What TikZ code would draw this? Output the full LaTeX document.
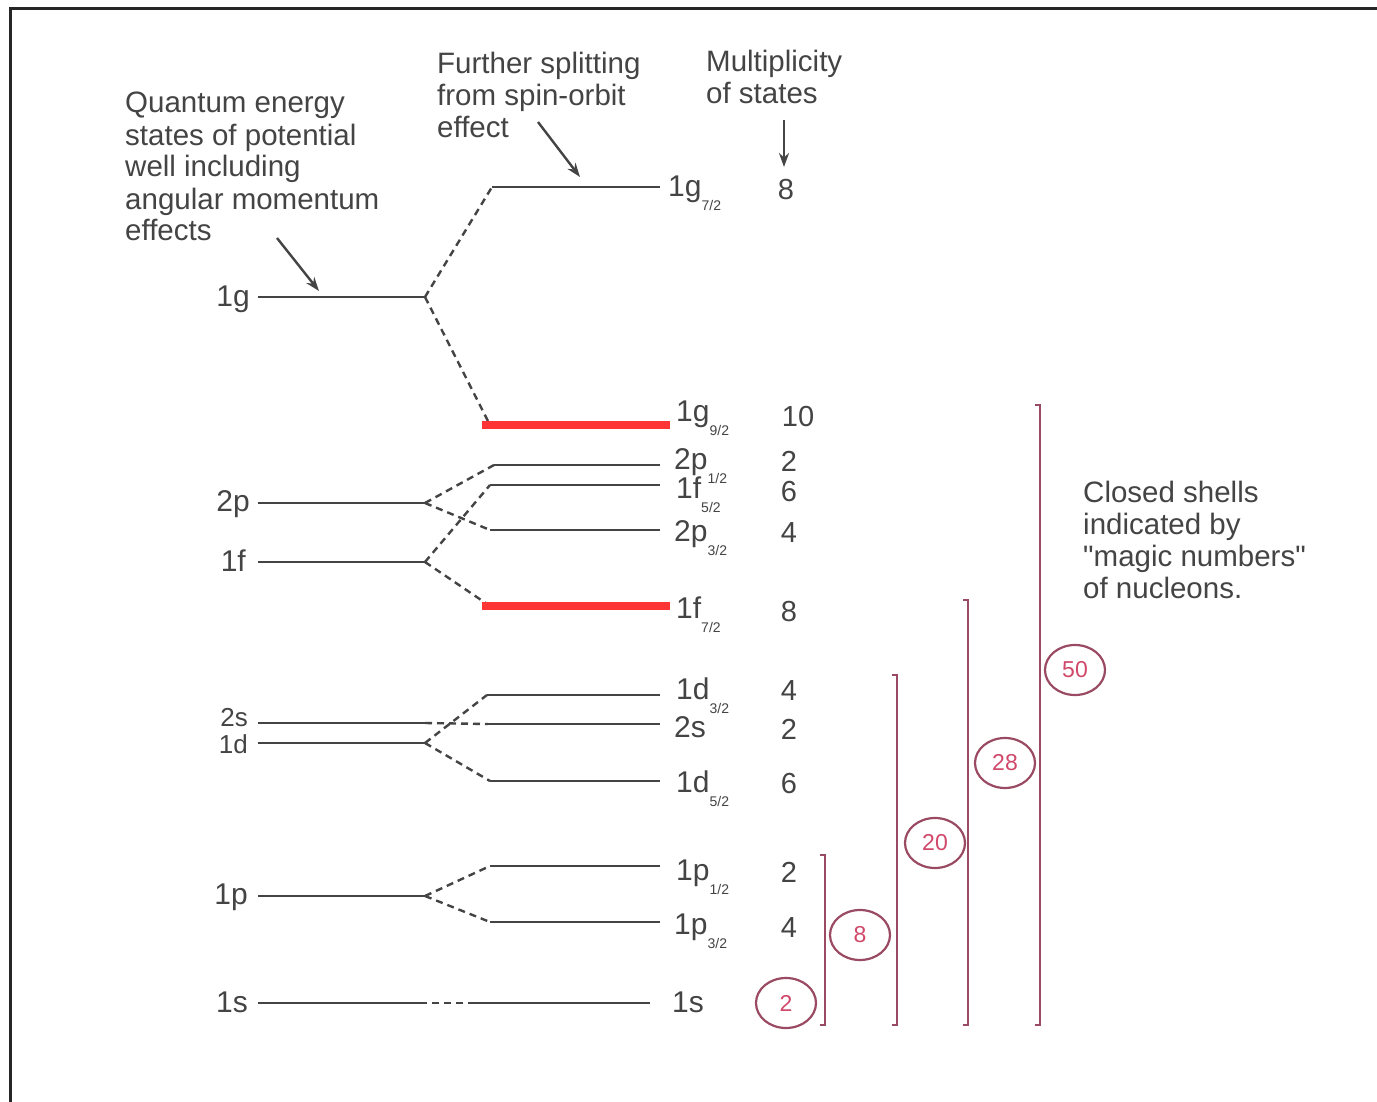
\documentclass[tikz,border=0pt]{standalone}
\usepackage{fontspec}
\setmainfont{Liberation Sans}
\usetikzlibrary{arrows.meta,shapes.geometric}
\definecolor{ink}{HTML}{444444}
\definecolor{magic}{HTML}{9A4A62}
\definecolor{magictext}{HTML}{D0486A}
\definecolor{hl}{HTML}{FF3535}
\tikzset{
  level/.style={line width=2.6pt, draw=ink},
  split/.style={line width=2.4pt, draw=ink, dash pattern=on 7pt off 5pt},
  lbl/.style={text=ink, font=\fontsize{30}{30}\selectfont, inner sep=0pt},
  smalllbl/.style={text=ink, font=\fontsize{26}{26}\selectfont, inner sep=0pt},
  mult/.style={text=ink, font=\fontsize{29}{29}\selectfont, inner sep=0pt, anchor=mid},
  note/.style={text=ink, font=\fontsize{29.5}{32}\selectfont, align=left, inner sep=0pt, anchor=base west},
  pointer/.style={draw=ink, line width=2.4pt, -{Stealth[length=14pt,width=10pt]}},
  shell/.style={draw=magic, line width=2.4pt},
  magicnum/.style={ellipse, draw=magic, line width=2.2pt, minimum width=60pt, minimum height=50pt,
    text=magictext, font=\fontsize{23}{23}\selectfont, inner sep=0pt},
  hlbar/.style={draw=hl, line width=8pt},
  frameline/.style={draw=black!85, line width=3pt},
}
\newcommand{\fr}[2]{\raisebox{-0.45em}{\fontsize{14}{14}\selectfont #1/#2}}
\begin{document}
\begin{tikzpicture}[x=1pt,y=-1pt]
\useasboundingbox (0,0) rectangle (1377,1102);
\fill[white] (0,0) rectangle (1377,1102);
% frame
\coordinate (frTR) at (1377,9);
\coordinate (frTL) at (10,9);
\coordinate (frBL) at (10,1102);
\draw[frameline] (frTR) -- (frTL) -- (frBL);

% annotations (anchor = baseline of last line)
\node[note] (qtext) at (125,241) {Quantum energy\\states of potential\\well including\\angular momentum\\effects};
\node[note] (ftext) at (437,138) {Further splitting\\from spin-orbit\\effect};
\node[note] (mtext) at (706,104) {Multiplicity\\of states};
\node[note] (ctext) at (1083,598) {Closed shells\\indicated by\\\textquotedbl magic numbers\textquotedbl\\of nucleons.};

% left levels
\node[lbl, anchor=mid east] (L1g) at (250,304) {1g};
\node[lbl, anchor=mid east] (L2p) at (250,509) {2p};
\node[lbl, anchor=mid east] (L1f) at (246,569) {1f};
\node[smalllbl, anchor=mid east] (L2s) at (248,724) {2s};
\node[smalllbl, anchor=mid east] (L1d) at (248,751) {1d};
\node[lbl, anchor=mid east] (L1p) at (248,902) {1p};
\node[lbl, anchor=mid east] (L1s) at (248,1010) {1s};

\coordinate (a1g) at (258,297); \coordinate (f1g) at (425,297);
\coordinate (a2p) at (258,503); \coordinate (f2p) at (425,503);
\coordinate (a1f) at (258,562); \coordinate (f1f) at (425,562);
\coordinate (a2s) at (258,723); \coordinate (f2s) at (425,723);
\coordinate (a1d) at (258,743); \coordinate (f1d) at (425,743);
\coordinate (a1p) at (258,896); \coordinate (f1p) at (425,896);
\coordinate (a1s) at (258,1003); \coordinate (f1s) at (420,1003);
\foreach \n in {1g,2p,1f,2s,1d,1p,1s} {\draw[level] (a\n) -- (f\n);}

% right levels
\coordinate (bg7) at (492,187); \coordinate (eg7) at (660,187);
\coordinate (bg9) at (490,425); \coordinate (eg9) at (660,425);
\coordinate (bp1) at (494,465); \coordinate (ep1) at (660,465);
\coordinate (bf5) at (490,485); \coordinate (ef5) at (660,485);
\coordinate (bp3) at (490,530); \coordinate (ep3) at (660,530);
\coordinate (bf7) at (490,606); \coordinate (ef7) at (660,606);
\coordinate (bd3) at (487,695); \coordinate (ed3) at (660,695);
\coordinate (bs2) at (488,724); \coordinate (es2) at (660,724);
\coordinate (bd5) at (490,781); \coordinate (ed5) at (660,781);
\coordinate (bq1) at (490,866); \coordinate (eq1) at (660,866);
\coordinate (bq3) at (490,922); \coordinate (eq3) at (660,922);
\coordinate (bs1) at (472,1003); \coordinate (es1) at (650,1003);
\foreach \n in {g7,g9,p1,f5,p3,f7,d3,s2,d5,q1,q3,s1} {\draw[level] (b\n) -- (e\n);}

% spin-orbit splitting (dashed)
\draw[split] (f1g) -- (bg7);
\draw[split] (f1g) -- (bg9);
\draw[split] (f2p) -- (bp1);
\draw[split] (f2p) -- (bp3);
\draw[split] (f1f) -- (bf5);
\draw[split] (f1f) -- (bf7);
\draw[split] (f1d) -- (bd3);
\draw[split] (f2s) -- (bs2);
\draw[split] (f1d) -- (bd5);
\draw[split] (f1p) -- (bq1);
\draw[split] (f1p) -- (bq3);
\draw[split] (f1s) -- (bs1);

% red highlight bars
\coordinate (hA1) at (482,425); \coordinate (hA2) at (670,425);
\coordinate (hB1) at (482,606); \coordinate (hB2) at (670,606);
\draw[hlbar] (hA1) -- (hA2);
\draw[hlbar] (hB1) -- (hB2);

% right labels
\node[lbl, anchor=mid west] (Rg7) at (668,194) {1g\fr{7}{2}};
\node[lbl, anchor=mid west] (Rg9) at (676,419) {1g\fr{9}{2}};
\node[lbl, anchor=mid west] (Rp1) at (674,467) {2p\fr{1}{2}};
\node[lbl, anchor=mid west] (Rf5) at (676,496) {1f\fr{5}{2}};
\node[lbl, anchor=mid west] (Rp3) at (674,539) {2p\fr{3}{2}};
\node[lbl, anchor=mid west] (Rf7) at (676,616) {1f\fr{7}{2}};
\node[lbl, anchor=mid west] (Rd3) at (676,697) {1d\fr{3}{2}};
\node[lbl, anchor=mid west] (Rs2) at (674,735) {2s};
\node[lbl, anchor=mid west] (Rd5) at (676,790) {1d\fr{5}{2}};
\node[lbl, anchor=mid west] (Rq1) at (676,878) {1p\fr{1}{2}};
\node[lbl, anchor=mid west] (Rq3) at (674,932) {1p\fr{3}{2}};
\node[lbl, anchor=mid west] (Rs1) at (672,1010) {1s};

% multiplicities
\node[mult] (Mg7) at (786,197) {8};
\node[mult] (Mg9) at (798,424) {10};
\node[mult] (Mp1) at (789,469) {2};
\node[mult] (Mf5) at (789,499) {6};
\node[mult] (Mp3) at (789,540) {4};
\node[mult] (Mf7) at (789,619) {8};
\node[mult] (Md3) at (789,698) {4};
\node[mult] (Ms2) at (789,737) {2};
\node[mult] (Md5) at (789,791) {6};
\node[mult] (Mq1) at (789,880) {2};
\node[mult] (Mq3) at (789,935) {4};

% pointers
\coordinate (pq0) at (277,238); \coordinate (pq1) at (319,291);
\coordinate (pf0) at (538,122); \coordinate (pf1) at (580,177);
\coordinate (pm0) at (784,120); \coordinate (pm1) at (784,167);
\draw[pointer] (pq0) -- (pq1);
\draw[pointer] (pf0) -- (pf1);
\draw[pointer] (pm0) -- (pm1);

% closed shells
\coordinate (s1t) at (825,855);  \coordinate (s1b) at (825,1025);
\coordinate (s2t) at (897,675);  \coordinate (s2b) at (897,1025);
\coordinate (s3t) at (968,600);  \coordinate (s3b) at (968,1025);
\coordinate (s4t) at (1040,405); \coordinate (s4b) at (1040,1025);
\foreach \n in {s1,s2,s3,s4} {
  \draw[shell] ([xshift=-5pt]\n t) -- (\n t) -- (\n b) -- ([xshift=-5pt]\n b);
}
\node[magicnum] (m2)  at (786,1003) {2};
\node[magicnum] (m8)  at (860,935)  {8};
\node[magicnum] (m20) at (935,843)  {20};
\node[magicnum] (m28) at (1005,763) {28};
\node[magicnum] (m50) at (1075,670) {50};
\end{tikzpicture}
\end{document}
